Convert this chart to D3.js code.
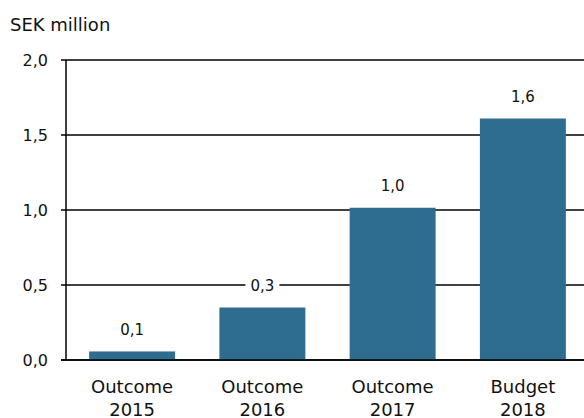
<!DOCTYPE html>
<html><head><meta charset="utf-8">
<script src="https://cdn.jsdelivr.net/npm/d3@7"></script>
<style>body{margin:0;background:#fff}svg{display:block;font-family:"DejaVu Sans",sans-serif}</style>
</head><body>
<script>
const categories = [["Outcome","2015"],["Outcome","2016"],["Outcome","2017"],["Budget","2018"]];
const values = [0.057, 0.35, 1.015, 1.61];
const valueLabels = ["0,1","0,3","1,0","1,6"];
const yTicks = [0, 0.5, 1.0, 1.5, 2.0];
const yTickLabels = ["0,0","0,5","1,0","1,5","2,0"];
const unitLabel = "SEK million";

const W = 584, H = 418;
const svg = d3.select("body").append("svg").attr("width", W).attr("height", H);
const y = d3.scaleLinear().domain([0, 2]).range([360, 60]);
const x = d3.scaleBand().domain(d3.range(categories.length)).range([67, 588]).paddingInner(0.34).paddingOuter(0.17);

svg.append("text").attr("x", 10).attr("y", 31).attr("font-size", 18).attr("fill", "#111").text(unitLabel);

// gridlines
svg.append("g").selectAll("line").data(yTicks).join("line")
  .attr("x1", 61).attr("x2", W).attr("y1", d => y(d)).attr("y2", d => y(d))
  .attr("stroke", "#000").attr("stroke-width", 1.5);

// y tick labels
svg.append("g").selectAll("text").data(yTicks).join("text")
  .attr("x", 48).attr("y", d => y(d)).attr("dy", "0.36em").attr("text-anchor", "end")
  .attr("font-size", 16).attr("fill", "#111").text((d, i) => yTickLabels[i]);

// bars
svg.append("g").selectAll("rect").data(values).join("rect")
  .attr("x", (d, i) => x(i)).attr("width", x.bandwidth())
  .attr("y", d => y(d)).attr("height", d => y(0) - y(d))
  .attr("fill", "#2e6c90");

// baseline + axis
svg.append("line").attr("x1", 61).attr("x2", W).attr("y1", y(0)).attr("y2", y(0)).attr("stroke", "#000").attr("stroke-width", 1.5);
svg.append("line").attr("x1", 66).attr("x2", 66).attr("y1", y(2)).attr("y2", y(0)).attr("stroke", "#000").attr("stroke-width", 1.5);

// value labels with white background
const vl = svg.append("g").selectAll("g").data(values).join("g")
  .attr("transform", (d, i) => `translate(${x(i) + x.bandwidth() / 2},${y(d) - 22})`);
vl.append("rect").attr("x", -17).attr("y", -9).attr("width", 34).attr("height", 18).attr("fill", "#fff");
vl.append("text").attr("text-anchor", "middle").attr("dy", "0.36em").attr("font-size", 15).attr("fill", "#111")
  .text((d, i) => valueLabels[i]);

// category labels
const cl = svg.append("g").selectAll("text").data(categories).join("text")
  .attr("text-anchor", "middle").attr("font-size", 18).attr("fill", "#111");
cl.append("tspan").attr("x", (d, i) => x(i) + x.bandwidth() / 2).attr("y", 393).text(d => d[0]);
cl.append("tspan").attr("x", (d, i) => x(i) + x.bandwidth() / 2).attr("y", 416).text(d => d[1]);
</script>
</body></html>
